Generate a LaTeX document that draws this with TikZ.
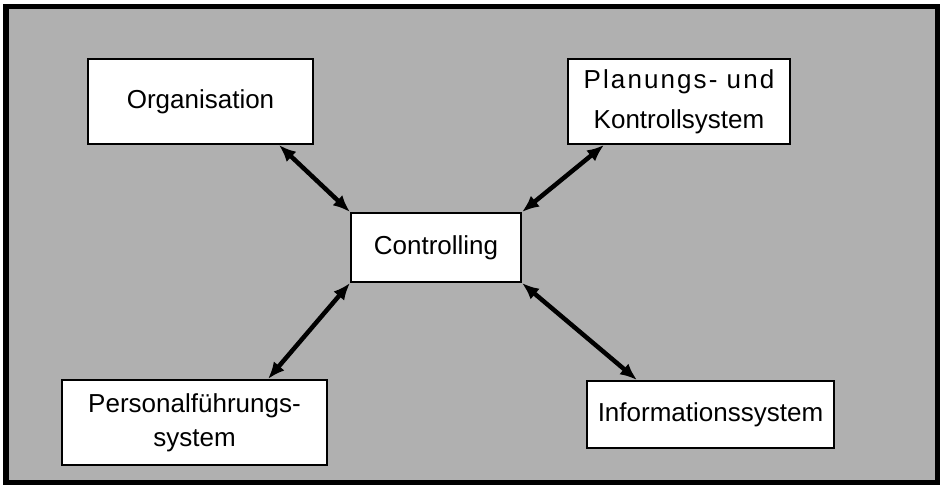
\documentclass[tikz,border=0pt]{standalone}
\usepackage{fontspec}
\setmainfont{Liberation Sans}
\usetikzlibrary{arrows.meta}
\tikzset{
  box/.style={draw, line width=0.4mm, fill=white, inner sep=0pt, align=center},
  link/.style={{Latex[length=3.4mm,width=2.8mm]}-{Latex[length=3.4mm,width=2.8mm]}, line width=0.9mm},
}
\begin{document}
\begin{tikzpicture}[x=0.2mm,y=-0.2mm,font=\fontsize{14.8}{17.4}\selectfont]
    % Draw the frame
    \useasboundingbox (0,0) rectangle (942,488);
    \draw[line width=1mm, fill=black!31] (6,6) rectangle (937,482);

    % Draw the boxes
    \node[box, minimum width=45mm, minimum height=17mm] (org) at (200.5,101.5) {Organisation};
    \node[box, minimum width=44.4mm, minimum height=17mm, font=\fontsize{14.8}{22.8}\selectfont] (plan) at (679,101.5)
        {{\addfontfeatures{LetterSpace=8}Planungs- und}\\Kontrollsystem};
    \node[box, minimum width=34mm, minimum height=13.8mm] (ctrl) at (436,247.5) {Controlling};
    \node[box, minimum width=53mm, minimum height=17mm, font=\fontsize{14.8}{19.4}\selectfont] (pers) at (194.5,422.5)
        {Personalführungs-\\system};
    \node[box, minimum width=49.4mm, minimum height=13.4mm] (info) at (710.5,414.5) {Informationssystem};

    % Draw the arrows
    \draw[link] ([xshift=-7mm]org.south east) -- (ctrl.north west);
    \draw[link] ([xshift=7.4mm]plan.south west) -- (ctrl.north east);
    \draw[link] ([xshift=-12mm]pers.north east) -- (ctrl.south west);
    \draw[link] ([xshift=10.2mm]info.north west) -- (ctrl.south east);
\end{tikzpicture}
\end{document}
